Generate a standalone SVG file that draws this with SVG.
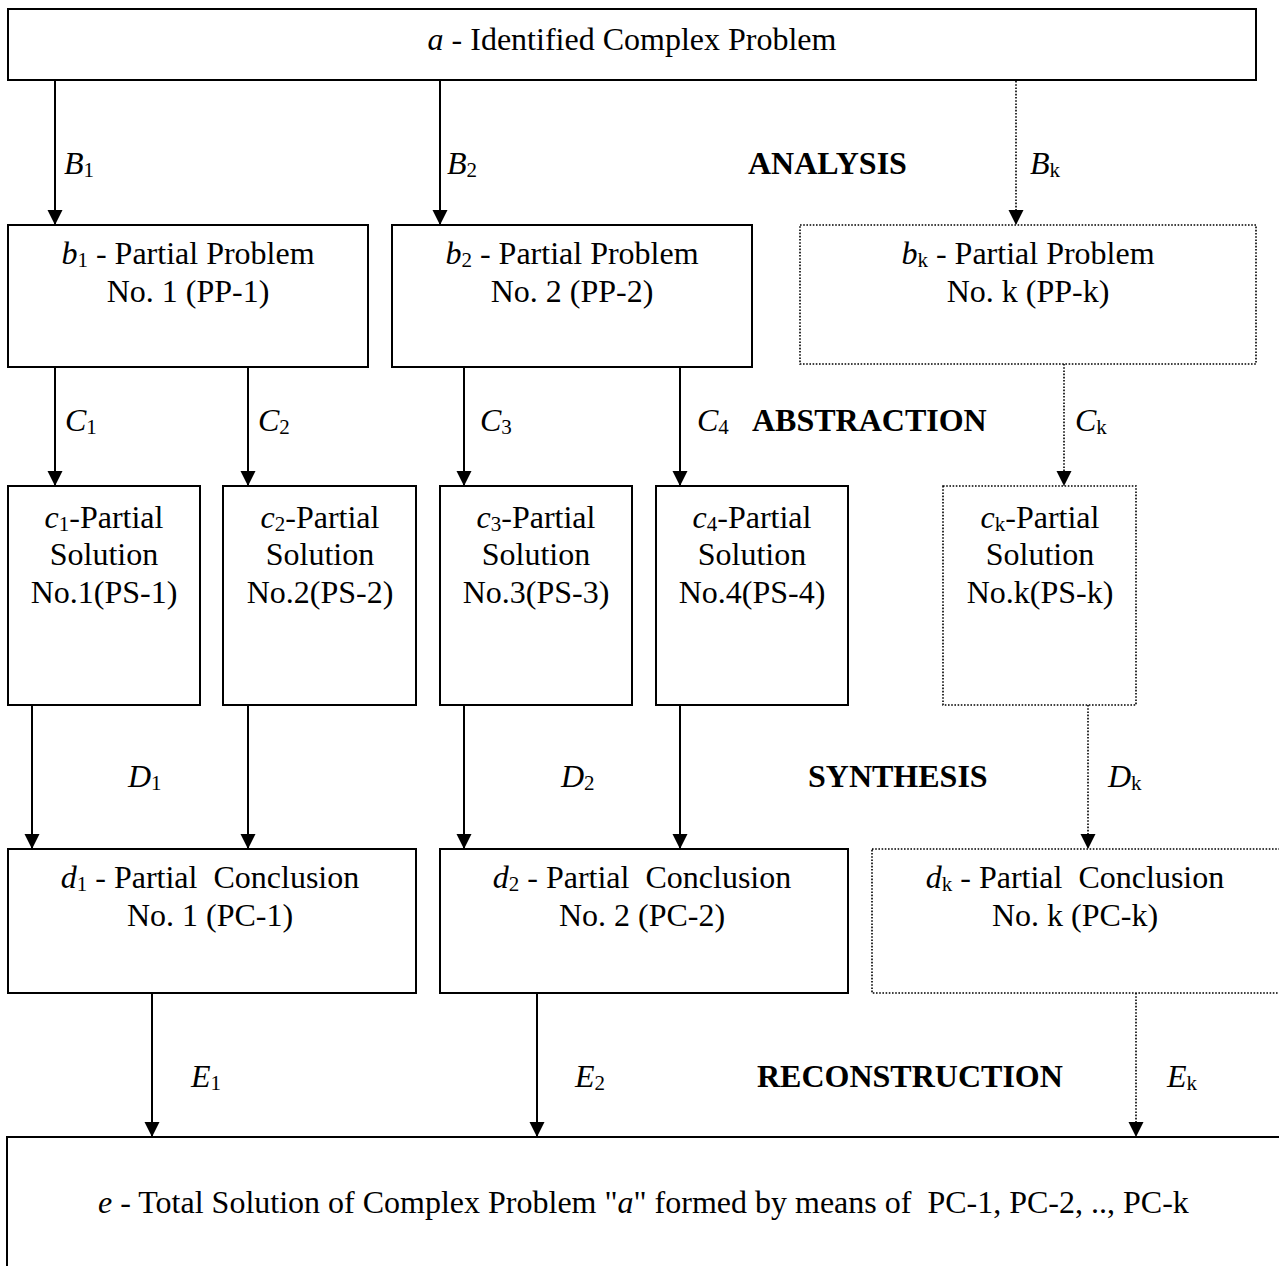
<svg xmlns="http://www.w3.org/2000/svg" width="1279" height="1266" viewBox="0 0 1279 1266">
<style>
text{font-family:"Liberation Serif","Times New Roman",serif;font-size:32px;fill:#000;white-space:pre}
.c{text-anchor:middle}
.i{font-style:italic}
.s{font-size:21px;font-style:normal}
.b{font-weight:bold}
.box{fill:#fff;stroke:#000;stroke-width:2}
.dbox{fill:#fff;stroke:#000;stroke-width:1.6;stroke-dasharray:1.6 1.6}
.ln{stroke:#000;stroke-width:2;fill:none;marker-end:url(#ah)}
.dl{stroke:#000;stroke-width:1.6;stroke-dasharray:1.6 1.6;fill:none;marker-end:url(#ah)}
</style>
<defs>
<marker id="ah" markerUnits="userSpaceOnUse" markerWidth="16" markerHeight="16" refX="15" refY="7.5" orient="auto">
<path d="M0,0 L15,7.5 L0,15 z" fill="#000" stroke="none"/>
</marker>
</defs>
<rect width="1279" height="1266" fill="#fff"/>

<g id="connectors">
<line class="ln" x1="55" y1="81" x2="55" y2="225"/>
<line class="ln" x1="440" y1="81" x2="440" y2="225"/>
<line class="dl" x1="1016" y1="81" x2="1016" y2="225"/>
<line class="ln" x1="55" y1="367" x2="55" y2="486"/>
<line class="ln" x1="248" y1="367" x2="248" y2="486"/>
<line class="ln" x1="464" y1="367" x2="464" y2="486"/>
<line class="ln" x1="680" y1="367" x2="680" y2="486"/>
<line class="dl" x1="1064" y1="364" x2="1064" y2="486"/>
<line class="ln" x1="32" y1="705" x2="32" y2="849"/>
<line class="ln" x1="248" y1="705" x2="248" y2="849"/>
<line class="ln" x1="464" y1="705" x2="464" y2="849"/>
<line class="ln" x1="680" y1="705" x2="680" y2="849"/>
<line class="dl" x1="1088" y1="705" x2="1088" y2="849"/>
<line class="ln" x1="152" y1="993" x2="152" y2="1137"/>
<line class="ln" x1="537" y1="993" x2="537" y2="1137"/>
<line class="dl" x1="1136" y1="993" x2="1136" y2="1137"/>
<text x="64" y="174"><tspan class="i">B</tspan><tspan class="s" dy="3">1</tspan></text>
<text x="447" y="174"><tspan class="i">B</tspan><tspan class="s" dy="3">2</tspan></text>
<text x="1030" y="174"><tspan class="i">B</tspan><tspan class="s" dy="3">k</tspan></text>
<text x="65" y="431"><tspan class="i">C</tspan><tspan class="s" dy="3">1</tspan></text>
<text x="258" y="431"><tspan class="i">C</tspan><tspan class="s" dy="3">2</tspan></text>
<text x="480" y="431"><tspan class="i">C</tspan><tspan class="s" dy="3">3</tspan></text>
<text x="697" y="431"><tspan class="i">C</tspan><tspan class="s" dy="3">4</tspan></text>
<text x="1075" y="431"><tspan class="i">C</tspan><tspan class="s" dy="3">k</tspan></text>
<text x="128" y="787"><tspan class="i">D</tspan><tspan class="s" dy="3">1</tspan></text>
<text x="561" y="787"><tspan class="i">D</tspan><tspan class="s" dy="3">2</tspan></text>
<text x="1108" y="787"><tspan class="i">D</tspan><tspan class="s" dy="3">k</tspan></text>
<text x="191" y="1087"><tspan class="i">E</tspan><tspan class="s" dy="3">1</tspan></text>
<text x="575" y="1087"><tspan class="i">E</tspan><tspan class="s" dy="3">2</tspan></text>
<text x="1167" y="1087"><tspan class="i">E</tspan><tspan class="s" dy="3">k</tspan></text>
</g>

<g id="phase-labels">
<text class="b" x="748" y="174">ANALYSIS</text>
<text class="b" x="752" y="431">ABSTRACTION</text>
<text class="b" x="808" y="787">SYNTHESIS</text>
<text class="b" x="757" y="1087">RECONSTRUCTION</text>
</g>

<g id="node-a">
<rect class="box" x="8" y="9" width="1248" height="71"/>
<text class="c" x="632" y="50"><tspan class="i">a</tspan> - Identified Complex Problem</text>
</g>

<g id="node-b1">
<rect class="box" x="8" y="225" width="360" height="142"/>
<text class="c" x="188" y="264"><tspan class="i">b</tspan><tspan class="s" dy="3">1</tspan><tspan dy="-3"> - Partial Problem</tspan></text>
<text class="c" x="188" y="302">No. 1 (PP-1)</text>
</g>
<g id="node-b2">
<rect class="box" x="392" y="225" width="360" height="142"/>
<text class="c" x="572" y="264"><tspan class="i">b</tspan><tspan class="s" dy="3">2</tspan><tspan dy="-3"> - Partial Problem</tspan></text>
<text class="c" x="572" y="302">No. 2 (PP-2)</text>
</g>
<g id="node-bk">
<rect class="dbox" x="800" y="225" width="456" height="139"/>
<text class="c" x="1028" y="264"><tspan class="i">b</tspan><tspan class="s" dy="3">k</tspan><tspan dy="-3"> - Partial Problem</tspan></text>
<text class="c" x="1028" y="302">No. k (PP-k)</text>
</g>

<g id="node-c1">
<rect class="box" x="8" y="486" width="192" height="219"/>
<text class="c" x="104" y="528"><tspan class="i">c</tspan><tspan class="s" dy="3">1</tspan><tspan dy="-3">-Partial</tspan></text>
<text class="c" x="104" y="565">Solution</text>
<text class="c" x="104" y="603">No.1(PS-1)</text>
</g>
<g id="node-c2">
<rect class="box" x="223" y="486" width="193" height="219"/>
<text class="c" x="320" y="528"><tspan class="i">c</tspan><tspan class="s" dy="3">2</tspan><tspan dy="-3">-Partial</tspan></text>
<text class="c" x="320" y="565">Solution</text>
<text class="c" x="320" y="603">No.2(PS-2)</text>
</g>
<g id="node-c3">
<rect class="box" x="440" y="486" width="192" height="219"/>
<text class="c" x="536" y="528"><tspan class="i">c</tspan><tspan class="s" dy="3">3</tspan><tspan dy="-3">-Partial</tspan></text>
<text class="c" x="536" y="565">Solution</text>
<text class="c" x="536" y="603">No.3(PS-3)</text>
</g>
<g id="node-c4">
<rect class="box" x="656" y="486" width="192" height="219"/>
<text class="c" x="752" y="528"><tspan class="i">c</tspan><tspan class="s" dy="3">4</tspan><tspan dy="-3">-Partial</tspan></text>
<text class="c" x="752" y="565">Solution</text>
<text class="c" x="752" y="603">No.4(PS-4)</text>
</g>
<g id="node-ck">
<rect class="dbox" x="943" y="486" width="193" height="219"/>
<text class="c" x="1040" y="528"><tspan class="i">c</tspan><tspan class="s" dy="3">k</tspan><tspan dy="-3">-Partial</tspan></text>
<text class="c" x="1040" y="565">Solution</text>
<text class="c" x="1040" y="603">No.k(PS-k)</text>
</g>

<g id="node-d1">
<rect class="box" x="8" y="849" width="408" height="144"/>
<text class="c" x="210" y="888"><tspan class="i">d</tspan><tspan class="s" dy="3">1</tspan><tspan dy="-3"> - Partial  Conclusion</tspan></text>
<text class="c" x="210" y="926">No. 1 (PC-1)</text>
</g>
<g id="node-d2">
<rect class="box" x="440" y="849" width="408" height="144"/>
<text class="c" x="642" y="888"><tspan class="i">d</tspan><tspan class="s" dy="3">2</tspan><tspan dy="-3"> - Partial  Conclusion</tspan></text>
<text class="c" x="642" y="926">No. 2 (PC-2)</text>
</g>
<g id="node-dk">
<rect class="dbox" x="872" y="849" width="430" height="144"/>
<text class="c" x="1075" y="888"><tspan class="i">d</tspan><tspan class="s" dy="3">k</tspan><tspan dy="-3"> - Partial  Conclusion</tspan></text>
<text class="c" x="1075" y="926">No. k (PC-k)</text>
</g>

<g id="node-e">
<rect class="box" x="7" y="1137" width="1300" height="160"/>
<text x="98" y="1213"><tspan class="i">e</tspan> - Total Solution of Complex Problem "<tspan class="i">a</tspan>" formed by means of  PC-1, PC-2, .., PC-k</text>
</g>
</svg>
